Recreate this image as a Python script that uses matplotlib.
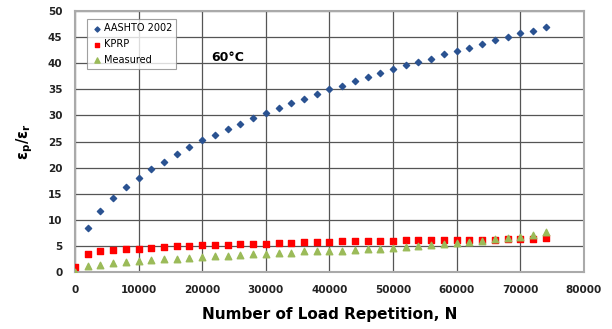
import matplotlib.pyplot as plt

# load repetitions (every 2000 cycles)
n_aashto = list(range(2000, 76000, 2000))
aashto = [8.4, 11.7, 14.1, 16.2, 18.0, 19.7, 21.1, 22.6, 23.9, 25.2,
          26.3, 27.4, 28.4, 29.5, 30.5, 31.4, 32.3, 33.2, 34.1, 35.0,
          35.7, 36.5, 37.3, 38.1, 38.8, 39.6, 40.3, 40.9, 41.7, 42.3,
          43.0, 43.7, 44.4, 45.0, 45.7, 46.2, 46.9]

n_all = list(range(0, 76000, 2000))
kprp = [1.0, 3.4, 4.0, 4.2, 4.4, 4.5, 4.7, 4.8, 4.9, 5.0,
        5.1, 5.2, 5.2, 5.3, 5.4, 5.4, 5.6, 5.6, 5.7, 5.8,
        5.8, 5.9, 5.9, 5.9, 6.0, 6.0, 6.1, 6.1, 6.2, 6.2,
        6.2, 6.2, 6.2, 6.2, 6.3, 6.3, 6.3, 6.5]
measured = [0.0, 1.1, 1.4, 1.7, 1.9, 2.1, 2.3, 2.5, 2.6, 2.7,
            2.9, 3.0, 3.1, 3.2, 3.4, 3.4, 3.6, 3.7, 4.0, 4.0,
            4.0, 4.1, 4.3, 4.5, 4.5, 4.7, 4.8, 5.0, 5.2, 5.3,
            5.6, 5.8, 6.0, 6.3, 6.5, 6.8, 7.1, 7.7]

x_ticks = list(range(0, 90000, 10000))
y_ticks = list(range(0, 55, 5))

fig = plt.figure(figsize=(6.12, 3.29), dpi=100)
ax = fig.add_axes([0.1225, 0.173, 0.8315, 0.7936])

ax.scatter(n_aashto, aashto, marker="D", s=10, color="#2A5291", label="AASHTO 2002", zorder=3)
ax.scatter(n_all, kprp, marker="s", s=20, color="#FF0000", label="KPRP", zorder=3)
ax.scatter(n_all, measured, marker="^", s=22, color="#9BBB59", label="Measured", zorder=4)

ax.set_xlim(0, 80000)
ax.set_ylim(0, 50)
ax.set_xticks(x_ticks)
ax.set_yticks(y_ticks)
ax.grid(True, color="#555555", linewidth=0.9)
ax.set_axisbelow(True)
for sp in ax.spines.values():
    sp.set_color("#AAAAAA")
    sp.set_linewidth(1.5)
ax.tick_params(length=0, labelsize=7.5, pad=9, colors="#222222")
for lab in ax.get_xticklabels() + ax.get_yticklabels():
    lab.set_fontweight("bold")

ax.set_xlabel("Number of Load Repetition, N", fontsize=11, fontweight="bold", labelpad=9)
ax.set_ylabel(r"$\mathbf{\epsilon_p/\epsilon_r}$", fontsize=10.5, labelpad=9)

ax.text(24000, 41.0, "60°C", fontsize=9, fontweight="bold", ha="center", va="center")

leg = ax.legend(loc="upper left", bbox_to_anchor=(0.02, 0.975), fontsize=7,
                frameon=True, fancybox=False, edgecolor="#888888",
                handletextpad=0.0, labelspacing=0.6, borderpad=0.4,
                markerscale=0.8, handlelength=1.3, borderaxespad=0.2)
leg.get_frame().set_linewidth(0.8)

fig.savefig("out.png", dpi=100)
